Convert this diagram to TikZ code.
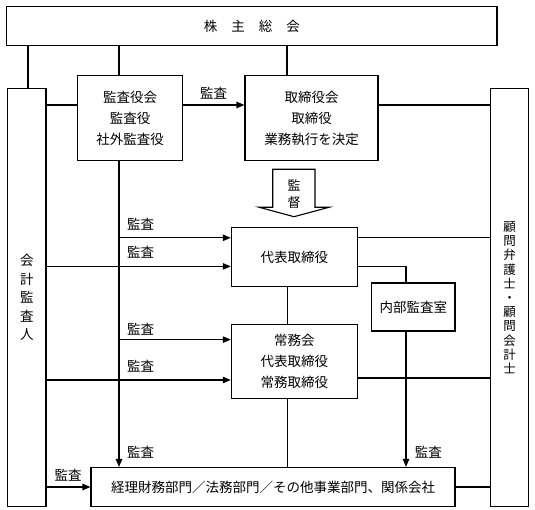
\documentclass[tikz,border=0pt]{standalone}
\usepackage{fontspec}
\newfontfamily\jp{Noto Sans CJK JP}
\usetikzlibrary{arrows.meta}
\begin{document}
\begin{tikzpicture}[x=1pt,y=-1pt,
  box/.style={draw,line width=1.1pt,inner sep=0pt,font=\jp\fontsize{13.5}{21}\selectfont,align=center},
  ln/.style={line width=1.1pt},
  arr/.style={ln,-{Triangle[length=8pt,width=6.5pt]}},
  lbl/.style={font=\jp\fontsize{13.5}{16}\selectfont,inner sep=0pt,anchor=west},
  clbl/.style={font=\jp\fontsize{13.5}{16}\selectfont,inner sep=0pt}]
\useasboundingbox (0,0) rectangle (535,510);

% boxes
\node[box,minimum width=490.2pt,minimum height=38.6pt] (sh) at (251.9,26.1) {株\hspace{14pt}主\hspace{14pt}総\hspace{14pt}会};
\node[box,minimum width=38.5pt,minimum height=418pt,font=\jp\fontsize{13.5}{18.5}\selectfont] (lc) at (26.75,297.7) {会\\計\\監\\査\\人};
\node[box,minimum width=38.2pt,minimum height=418pt,font=\jp\fontsize{12.5}{14.2}\selectfont] (rc) at (509.7,297.7) {顧\\問\\弁\\護\\士\\・\\顧\\問\\会\\計\\士};
\node[box,minimum width=104.7pt,minimum height=84.7pt] (audit) at (130.15,118.05) {監査役会\\監査役\\社外監査役};
\node[box,minimum width=133pt,minimum height=84.7pt] (board) at (311.5,118.05) {取締役会\\取締役\\業務執行を決定};
\node[box,minimum width=125.9pt,minimum height=58.6pt] (rep) at (294.25,256.9) {代表取締役};
\node[box,minimum width=125.9pt,minimum height=73.4pt] (jomu) at (294.25,361.5) {常務会\\代表取締役\\常務取締役};
\node[box,minimum width=83.5pt,minimum height=48pt] (naibu) at (413.25,307) {内部監査室};
\node[box,minimum width=364pt,minimum height=39.2pt] (bottom) at (273,487.1) {経理財務部門／法務部門／その他事業部門、関係会社};

% supervision arrow
\draw[ln,fill=white] (272.7,169.3) -- (315,169.3) -- (315,207.3) -- (329,207.3) -- (294,216.7) -- (259.3,207.3) -- (272.7,207.3) -- cycle;
\node[clbl,align=center,font=\jp\fontsize{13}{17}\selectfont] (kantoku) at (294,194) {監\\督};

% junction points
\coordinate (j1) at (119,237.8);
\coordinate (j2) at (119,339.6);

% connectors
\draw[ln] (sh.south -| 28,0) -- (lc.north -| 28,0);
\draw[ln] (sh.south -| 119,0) -- (audit.north -| 119,0);
\draw[ln] (sh.south -| 287,0) -- (board.north -| 287,0);
\draw[ln] (lc.east |- 0,105) -- (audit.west |- 0,105);
\draw[arr] (audit.east |- 0,105) -- (board.west |- 0,105);
\draw[ln] (board.east |- 0,105) -- (rc.west |- 0,105);
\draw[arr] (audit.south -| 119,0) -- (bottom.north -| 119,0);
\draw[arr] (j1) -- (rep.west |- j1);
\draw[arr] (lc.east |- 0,266.4) -- (rep.west |- 0,266.4);
\draw[ln] (rep.east |- j1) -- (rc.west |- j1);
\draw[ln] (rep.east |- 0,266.4) -| (naibu.north -| 406,0);
\draw[ln] (rep.south -| 287.3,0) -- (jomu.north -| 287.3,0);
\draw[arr] (j2) -- (jomu.west |- j2);
\draw[arr] (lc.east |- 0,380) -- (jomu.west |- 0,380);
\draw[ln] (jomu.east |- 0,378) -- (rc.west |- 0,378);
\draw[ln] (jomu.south -| 287.3,0) -- (bottom.north -| 287.3,0);
\draw[arr] (naibu.south -| 406,0) -- (bottom.north -| 406,0);
\draw[arr] (lc.east |- 0,487) -- (bottom.west |- 0,487);
\draw[ln] (bottom.east |- 0,487) -- (rc.west |- 0,487);

% labels
\node[clbl] (la) at (213.5,93) {監査};
\node[lbl] (lb) at (127,223.8) {監査};
\node[lbl] (lc1) at (127,252) {監査};
\node[lbl] (ld) at (127,329.6) {監査};
\node[lbl] (le) at (127,365.8) {監査};
\node[lbl] (lf) at (127,452) {監査};
\node[lbl] (lg) at (414.6,452) {監査};
\node[clbl] (lh) at (68,475) {監査};
\end{tikzpicture}
\end{document}
